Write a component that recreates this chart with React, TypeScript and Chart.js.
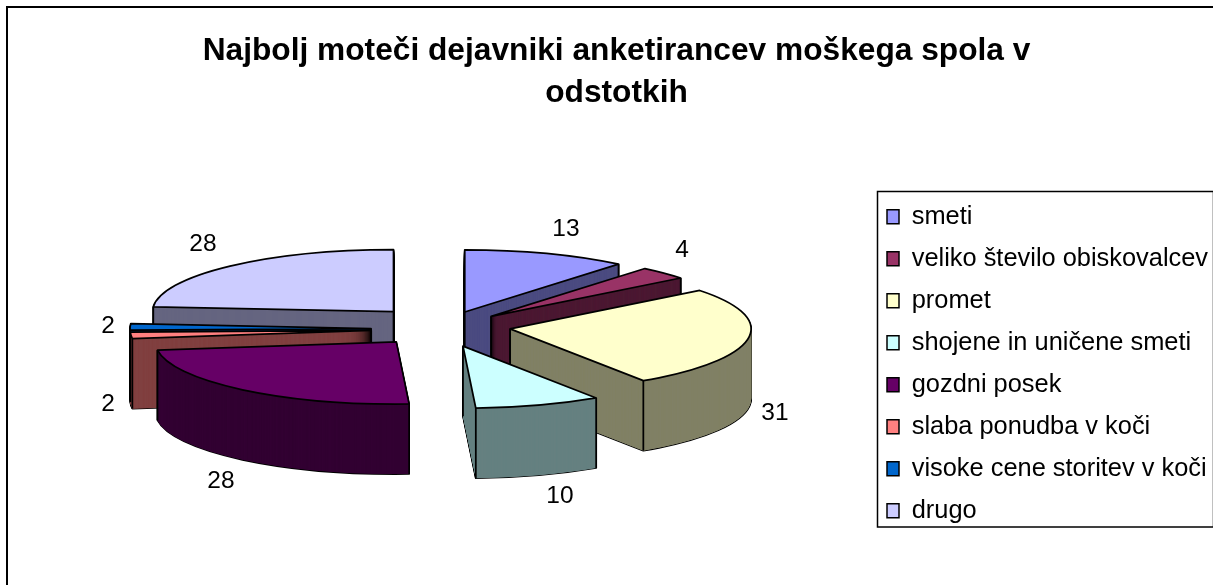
import React, { useEffect, useRef } from "react";
import { Chart, registerables } from "chart.js";

Chart.register(...registerables);

const categories = ["smeti", "veliko število obiskovalcev", "promet", "shojene in uničene smeti", "gozdni posek", "slaba ponudba v koči", "visoke cene storitev v koči", "drugo"];
const values = [13, 4, 31, 10, 28, 2, 2, 28];
const topColors = ["#9999FF", "#993366", "#FFFFCC", "#CCFFFF", "#660066", "#FF8080", "#0066CC", "#CCCCFF"];
const wallColors = ["#4C4C80", "#4C1933", "#808066", "#668080", "#330033", "#804040", "#003366", "#666680"];
const titleLines = ["Najbolj moteči dejavniki anketirancev moškega spola v", "odstotkih"];
const labelSpots = [[566, 229], [682, 250], [775, 413], [560, 496], [221, 481], [108, 404], [108, 326], [203, 244]];
const sliceNudgeY = [0, 0, -3, 0, -1, 0, 0, -4];

const FONT = "'Liberation Sans', Arial, sans-serif";
const PIE = { x: 441, y: 329, radius: 241, tilt: 0.258, depth: 70, explode: 70 };
const LEGEND = { left: 877.5, top: 191.5, right: 1213.5, bottom: 527 };

const pie3d = {
  id: "pie3d",
  beforeDraw(chart: any) {
    const { ctx, width, height } = chart;
    ctx.save();
    ctx.fillStyle = "#fff";
    ctx.fillRect(0, 0, width, height);
    ctx.strokeStyle = "#000";
    ctx.lineWidth = 2;
    ctx.beginPath();
    ctx.moveTo(7, height);
    ctx.lineTo(7, 7);
    ctx.lineTo(width, 7);
    ctx.stroke();
    ctx.restore();
  },
  afterLayout(chart: any) {
    const l = chart.legend;
    const pad = l.options.labels.padding;
    const w = l.right - l.left;
    const h = l.bottom - l.top;
    l.left = 887 - pad;
    l.right = l.left + w;
    l.top = 187.5;
    l.bottom = l.top + h;
    chart.titleBlock.left += 20;
  },
  beforeDatasetsDraw(chart: any) {
    const { ctx } = chart;
    const arcs: any[] = chart.getDatasetMeta(0).data;
    const info = arcs.map((arc, i) => {
      const mid = (arc.startAngle + arc.endAngle) / 2;
      return {
        arc,
        i,
        mid,
        x: PIE.x + Math.cos(mid) * PIE.explode,
        y: PIE.y + Math.sin(mid) * PIE.explode * PIE.tilt + sliceNudgeY[i],
      };
    });
    info.sort((a, b) => Math.sin(a.mid) - Math.sin(b.mid));

    const fillAt = (s: any, dy: number, color: string) => {
      const proxy = Object.create(s.arc, {
        options: { value: { ...s.arc.options, backgroundColor: color, borderWidth: 0 } },
      });
      ctx.save();
      ctx.translate(s.x, s.y + dy);
      ctx.scale(1, PIE.tilt);
      ctx.translate(-s.arc.x, -s.arc.y);
      proxy.draw(ctx);
      ctx.restore();
    };
    const strokeAt = (s: any, dy: number) => {
      ctx.save();
      ctx.translate(s.x, s.y + dy);
      ctx.scale(1, PIE.tilt);
      ctx.beginPath();
      ctx.moveTo(0, 0);
      ctx.arc(0, 0, s.arc.outerRadius, s.arc.startAngle, s.arc.endAngle);
      ctx.closePath();
      ctx.restore();
      ctx.stroke();
    };
    const vertical = (x: number, y: number) => {
      ctx.beginPath();
      ctx.moveTo(x, y);
      ctx.lineTo(x, y + PIE.depth);
      ctx.stroke();
    };

    ctx.save();
    ctx.strokeStyle = "#000";
    ctx.lineWidth = 1.75;
    ctx.lineJoin = "round";
    for (const s of info) {
      for (let dy = PIE.depth; dy > 0; dy -= 1) strokeAt(s, dy);
      for (let dy = PIE.depth; dy > 0; dy -= 0.25) fillAt(s, dy, wallColors[s.i]);
      const r = s.arc.outerRadius;
      const { startAngle: a0, endAngle: a1 } = s.arc;
      const startWall = Math.cos(a0) < 0;
      const endWall = Math.cos(a1) > 0;
      if (startWall || endWall) vertical(s.x, s.y);
      if (startWall || Math.sin(a0) > 0) vertical(s.x + Math.cos(a0) * r, s.y + Math.sin(a0) * r * PIE.tilt);
      if (endWall || Math.sin(a1) > 0) vertical(s.x + Math.cos(a1) * r, s.y + Math.sin(a1) * r * PIE.tilt);
      fillAt(s, 0, topColors[s.i]);
      strokeAt(s, 0);
    }
    ctx.restore();

    ctx.save();
    ctx.fillStyle = "#000";
    ctx.font = `24.5px ${FONT}`;
    ctx.textAlign = "center";
    ctx.textBaseline = "middle";
    values.forEach((v, i) => ctx.fillText(String(v), labelSpots[i][0], labelSpots[i][1]));
    ctx.restore();
    return false;
  },
  afterDraw(chart: any) {
    const { ctx } = chart;
    ctx.save();
    ctx.strokeStyle = "#000";
    ctx.lineWidth = 1.5;
    ctx.strokeRect(LEGEND.left, LEGEND.top, LEGEND.right - LEGEND.left, LEGEND.bottom - LEGEND.top);
    ctx.restore();
  },
};

export default function App() {
  const ref = useRef<HTMLCanvasElement>(null);
  useEffect(() => {
    const chart = new Chart(ref.current as HTMLCanvasElement, {
      type: "pie",
      data: {
        labels: categories,
        datasets: [{ data: values, backgroundColor: topColors, borderColor: "#000", borderWidth: 1.5 }],
      },
      options: {
        animation: false,
        responsive: false,
        radius: PIE.radius,
        layout: { padding: 0 },
        plugins: {
          title: {
            display: true,
            text: titleLines,
            color: "#000",
            font: { family: FONT, size: 31.7, weight: "bold", lineHeight: 1.3 },
            padding: { top: 31, bottom: 10 },
          },
          legend: {
            display: true,
            position: "right",
            align: "start",
            labels: {
              color: "#000",
              boxWidth: 12,
              boxHeight: 14,
              padding: 16.6,
              font: { family: FONT, size: 25.4, lineHeight: 1.18 },
            },
          },
          tooltip: { enabled: false },
        },
      },
      plugins: [pie3d],
    } as any);
    return () => chart.destroy();
  }, []);
  return (
    <div style={{ position: "fixed", left: 0, top: 0, width: 1213, height: 585, background: "#fff" }}>
      <canvas ref={ref} width={1213} height={585} style={{ display: "block" }} />
    </div>
  );
}
